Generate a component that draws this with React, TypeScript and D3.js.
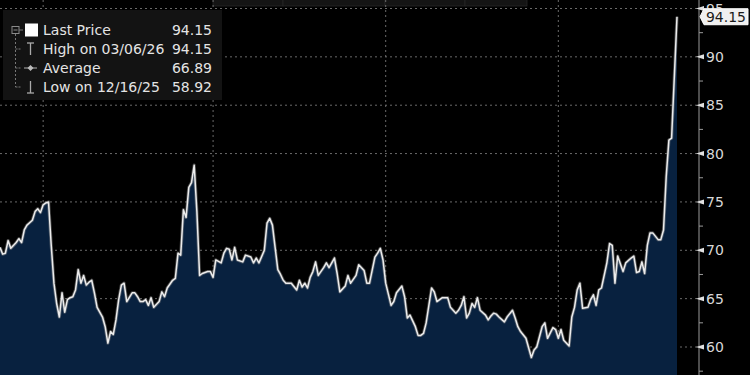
import React from "react";
import * as d3 from "d3";

// Trading-day index (0 = first day shown) and closing price
const days: number[] = [
  0, 1, 2, 3, 4, 6, 7, 8, 9, 10, 12, 13, 14, 15, 16, 17, 18, 19, 20, 21, 22, 23, 24, 25, 26, 27, 28, 29, 30, 31, 32, 33, 34, 35, 36, 38, 39, 40, 41, 42, 43, 44, 45, 46, 47, 49, 50, 51,
  52, 53, 54, 55, 56, 57, 59, 60, 61, 62, 64, 65, 66, 67, 68, 69, 70, 71, 72, 73, 74, 75, 77, 78, 79, 80, 82, 83, 84, 85, 86, 87, 88, 90, 91, 93, 94, 95, 96, 98, 99, 100, 101, 102, 103,
  104, 105, 106, 108, 110, 111, 112, 113, 114, 115, 116, 117, 118, 120, 121, 122, 124, 125, 126, 128, 129, 130, 132, 133, 135, 136, 137, 139, 140, 141, 142, 143, 145, 146, 147, 149, 150, 151, 152, 154, 155,
  156, 157, 158, 160, 161, 162, 164, 166, 167, 169, 170, 171, 172, 173, 174, 175, 176, 177, 178, 180, 181, 182, 183, 184, 185, 187, 188, 190, 191, 192, 193, 195, 197, 198, 199, 201, 202, 203, 205, 206, 207,
  208, 209, 211, 212, 213, 214, 215, 216, 218, 219, 220, 221, 222, 223, 225, 226, 227, 228, 229, 231, 232, 234, 235, 236, 237, 238, 239, 240, 241, 242, 244, 245, 246, 247, 248, 249, 251,
];
const prices: number[] = [
  70.3, 69.6, 69.7, 71.0, 70.2, 70.8, 71.2, 70.8, 72.1, 72.6, 73.1, 74.0, 74.3, 73.9, 74.7, 74.9, 75.0, 70.5, 66.6, 64.5, 63.1, 65.6, 63.6, 64.9, 65.1, 65.2, 65.9, 68.0, 66.6, 67.4, 66.4, 66.7, 66.9, 65.6, 64.1, 63.1, 62.1, 60.4, 61.6, 61.3, 62.8, 64.9, 66.4, 66.6, 64.7, 65.6, 65.6, 65.2,
  64.7, 64.7, 64.9, 64.3, 65.1, 64.1, 64.7, 65.7, 65.2, 66.1, 66.9, 67.1, 69.7, 69.5, 74.2, 73.4, 76.5, 77.0, 78.8, 74.0, 67.4, 67.6, 67.8, 67.8, 67.2, 69.0, 68.7, 69.7, 70.2, 70.1, 69.0, 70.3, 69.0, 68.8, 69.5, 69.3, 68.7, 69.2, 68.7, 70.0, 72.8, 73.3, 72.6, 70.3, 68.0,
  67.5, 66.9, 66.6, 66.6, 65.9, 66.9, 66.2, 66.6, 66.1, 67.2, 67.8, 68.8, 67.4, 68.2, 68.7, 68.2, 69.2, 67.6, 65.7, 66.3, 67.4, 66.6, 67.4, 68.5, 67.9, 66.6, 66.6, 69.3, 69.7, 70.2, 69.0, 66.6, 64.3, 64.7, 65.6, 66.3, 65.2, 63.0, 63.3, 62.1, 61.2,
  61.2, 61.4, 62.5, 66.1, 65.7, 64.7, 65.1, 65.1, 64.1, 63.5, 63.8, 64.3, 65.2, 63.0, 63.5, 64.5, 64.1, 65.1, 63.8, 63.3, 62.8, 63.2, 63.5, 63.4, 63.1, 62.6, 63.1, 63.8, 63.0, 62.1, 61.6, 60.9, 58.92, 59.7, 60.0, 62.1, 62.5, 60.9, 62.0, 61.8, 60.9,
  61.8, 60.7, 60.1, 63.1, 64.1, 65.9, 66.6, 64.0, 64.1, 64.9, 65.4, 64.3, 65.9, 66.1, 68.7, 70.7, 70.5, 66.6, 69.4, 67.8, 68.7, 69.2, 69.4, 67.7, 67.8, 68.8, 67.6, 70.5, 71.8, 71.8, 71.1, 71.1, 72.1, 77.6, 81.4, 81.6, 94.15,
];

const quarterStartDays: number[] = [16, 79, 143, 207];
const yTicks: number[] = [60, 65, 70, 75, 80, 85, 90, 95];
const yMinorTicks: number[] = [57.5, 62.5, 67.5, 72.5, 77.5, 82.5, 87.5, 92.5];

const legendLabels: string[] = ["Last Price", "High on 03/06/26", "Average", "Low on 12/16/25"];
const legendValues: string[] = ["94.15", "94.15", "66.89", "58.92"];
const lastPriceLabel = "94.15";

const W = 750;
const H = 375;
const FONT = "'DejaVu Sans', sans-serif";

export default function App() {
  const x = d3.scaleLinear().domain([0, 251]).range([0, 677]);
  const y = d3.scaleLinear().domain([60, 95]).range([347, 8.5]);
  const axisX = 699;

  const pts: [number, number][] = days.map((d, i) => [d, prices[i]]);
  const area = d3
    .area<[number, number]>()
    .x((d) => x(d[0]))
    .y0(H)
    .y1((d) => y(d[1]))(pts) as string;
  const line = d3
    .line<[number, number]>()
    .x((d) => x(d[0]))
    .y((d) => y(d[1]))(pts) as string;

  const lastY = y(prices[prices.length - 1]);
  const rowY = [30, 49, 68, 87];

  return (
    <svg
      width={W}
      height={H}
      style={{ position: "absolute", left: 0, top: 0, display: "block", background: "#000" }}
      fontFamily={FONT}
    >
      <defs>
        <clipPath id="aboveBox">
          <rect x={axisX} y={-10} width={60} height={lastY - 8 + 10} />
        </clipPath>
      </defs>
      <rect x={0} y={0} width={W} height={H} fill="#000" />

      {/* top toolbar remnants */}
      <g fill="#141414" stroke="#262626" strokeWidth={0.8}>
        <rect x={213} y={-2} width={70} height={8} />
        <rect x={283} y={-2} width={102} height={8} />
        <rect x={385} y={-2} width={80} height={8} />
        <rect x={465} y={-2} width={62} height={8} />
      </g>

      {/* horizontal gridlines */}
      {yTicks.map((t) => (
        <line
          key={"h" + t}
          x1={0}
          x2={axisX}
          y1={y(t)}
          y2={y(t)}
          stroke="#6a6a6a"
          strokeWidth={1}
          strokeDasharray="2,3"
        />
      ))}
      {/* vertical gridlines */}
      {quarterStartDays.map((d) => (
        <line
          key={"v" + d}
          x1={x(d)}
          x2={x(d)}
          y1={0}
          y2={H}
          stroke="#6a6a6a"
          strokeWidth={1}
          strokeDasharray="2,3"
        />
      ))}

      {/* area + line */}
      <path d={area} fill="#08213f" />
      <path d={line} fill="none" stroke="#8a8a8a" strokeOpacity={0.5} strokeWidth={3.2} strokeLinejoin="round" />
      <path d={line} fill="none" stroke="#ececec" strokeWidth={1.5} strokeLinejoin="round" />

      {/* right axis */}
      <line x1={axisX} x2={axisX} y1={0} y2={H} stroke="#9a9a9a" strokeWidth={1} />
      {yMinorTicks.map((t) => (
        <line key={"m" + t} x1={axisX} x2={axisX + 4} y1={y(t)} y2={y(t)} stroke="#9a9a9a" strokeWidth={1} />
      ))}
      {yTicks.map((t) => (
        <g key={"t" + t}>
          <path
            d={`M${axisX - 3},${y(t)} L${axisX + 5},${y(t) - 2.5} L${axisX + 5},${y(t) + 2.5} Z`}
            fill="#e0e0e0"
          />
          <text
            x={axisX + 7}
            y={y(t)}
            dy="0.36em"
            fontSize={14}
            fill="#d8d8d8"
            clipPath={t === 95 ? "url(#aboveBox)" : undefined}
          >
            {t}
          </text>
        </g>
      ))}

      {/* last price label */}
      <g>
        <path
          d={`M${axisX + 1},${lastY} L${axisX + 5},${lastY - 8} L${W - 2},${lastY - 8} L${W - 2},${lastY + 8} L${axisX + 5},${lastY + 8} Z`}
          fill="#f0f0f0"
          stroke="#ffffff"
          strokeWidth={1}
        />
        <text x={W - 4} y={lastY} dy="0.36em" textAnchor="end" fontSize={14} fill="#1a1a1a">
          {lastPriceLabel}
        </text>
      </g>

      {/* legend */}
      <g>
        <rect x={3} y={10} width={219} height={90} fill="#131313" />
        {/* tree */}
        <rect x={12} y={26.5} width={7} height={7} fill="none" stroke="#8a8a8a" strokeWidth={1} />
        <line x1={13.5} x2={17.5} y1={30} y2={30} stroke="#8a8a8a" strokeWidth={1} />
        <line x1={15.5} x2={15.5} y1={34} y2={rowY[3]} stroke="#777" strokeWidth={1} strokeDasharray="2,2" />
        {[rowY[1], rowY[2], rowY[3]].map((ry) => (
          <line key={"tr" + ry} x1={15.5} x2={21} y1={ry} y2={ry} stroke="#777" strokeWidth={1} strokeDasharray="2,1" />
        ))}
        <line x1={19} x2={23} y1={30} y2={30} stroke="#777" strokeWidth={1} />
        {/* icons */}
        <rect x={25} y={23.5} width={13} height={13} fill="#ffffff" />
        <line x1={27} x2={34} y1={43} y2={43} stroke="#aaa" strokeWidth={1.3} />
        <line x1={30.5} x2={30.5} y1={43} y2={55} stroke="#aaa" strokeWidth={1.3} />
        <line x1={24} x2={37} y1={rowY[2]} y2={rowY[2]} stroke="#999" strokeWidth={1.2} />
        <path d={`M30.5,${rowY[2] - 3} L33.5,${rowY[2]} L30.5,${rowY[2] + 3} L27.5,${rowY[2]} Z`} fill="#bbb" />
        <line x1={30.5} x2={30.5} y1={81} y2={93} stroke="#aaa" strokeWidth={1.3} />
        <line x1={27} x2={34} y1={93} y2={93} stroke="#aaa" strokeWidth={1.3} />
        {legendLabels.map((l, i) => (
          <g key={l}>
            <text x={43} y={rowY[i]} dy="0.36em" fontSize={14} fill="#e4e4e4">
              {l}
            </text>
            <text x={212} y={rowY[i]} dy="0.36em" fontSize={14} fill="#e4e4e4" textAnchor="end">
              {legendValues[i]}
            </text>
          </g>
        ))}
      </g>
    </svg>
  );
}
